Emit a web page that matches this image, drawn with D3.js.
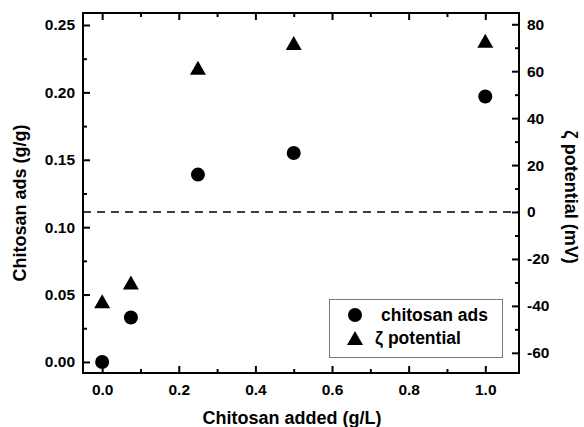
<!DOCTYPE html>
<html>
<head>
<meta charset="utf-8">
<script src="https://cdn.jsdelivr.net/npm/d3@7"></script>
<style>
  html, body { margin: 0; padding: 0; background: #fff; }
  svg { display: block; }
  text { font-family: "Liberation Sans", Arial, Helvetica, sans-serif; font-weight: bold; fill: #000; }
</style>
</head>
<body>
<svg id="chart" width="584" height="427"></svg>
<script>
// Chitosan added to the suspension (g/L)
const chitosanAdded = [0, 0.075, 0.25, 0.5, 1.0];
// Adsorbed chitosan (g/g)
const chitosanAds = [0.000, 0.033, 0.139, 0.155, 0.197];
// Zeta potential (mV)
const zetaPotential = [-38, -30, 61.5, 72, 73];

const xTicks = [0, 0.2, 0.4, 0.6, 0.8, 1.0];
const xMinorTicks = [0.1, 0.3, 0.5, 0.7, 0.9];
const yLeftTicks = [0, 0.05, 0.10, 0.15, 0.20, 0.25];
const yLeftMinorTicks = [0.025, 0.075, 0.125, 0.175, 0.225];
const yRightTicks = [-60, -40, -20, 0, 20, 40, 60, 80];
const yRightMinorTicks = [-50, -30, -10, 10, 30, 50, 70];

const legendLabels = ["chitosan ads", "\u03B6 potential"];
const xTitle = "Chitosan added (g/L)";
const yLeftTitle = "Chitosan ads (g/g)";
const yRightTitle = "\u03B6 potential (mV)";

const svg = d3.select("#chart");
const frame = { left: 83, right: 519, top: 13, bottom: 373 };

const x = d3.scaleLinear().domain([-0.05, 1.088]).range([frame.left, frame.right]);
const yL = d3.scaleLinear().domain([-0.0082, 0.2589]).range([frame.bottom, frame.top]);
const yR = d3.scaleLinear().domain([-68.6, 84.8]).range([frame.bottom, frame.top]);

const major = 7, minor = 4;
// plain hyphen for negative numbers
const intFmt = d => String(Math.round(d));

function styleAxis(g) {
  g.select(".domain").remove();
  g.selectAll(".tick line").attr("stroke", "#000").attr("stroke-width", 2);
  g.selectAll(".tick text").style("font-size", "15.5px");
}

// bottom axis
svg.append("g").attr("transform", `translate(0,${frame.bottom})`)
  .call(d3.axisBottom(x).tickValues(xTicks).tickFormat(d3.format(".1f"))
    .tickSizeInner(-major).tickSizeOuter(0).tickPadding(11))
  .call(styleAxis);
svg.append("g").attr("transform", `translate(0,${frame.bottom})`)
  .call(d3.axisBottom(x).tickValues(xMinorTicks).tickFormat("")
    .tickSizeInner(-minor).tickSizeOuter(0))
  .call(styleAxis);
// top axis (mirror, no labels)
svg.append("g").attr("transform", `translate(0,${frame.top})`)
  .call(d3.axisTop(x).tickValues(xTicks).tickFormat("")
    .tickSizeInner(-major).tickSizeOuter(0))
  .call(styleAxis);
svg.append("g").attr("transform", `translate(0,${frame.top})`)
  .call(d3.axisTop(x).tickValues(xMinorTicks).tickFormat("")
    .tickSizeInner(-minor).tickSizeOuter(0))
  .call(styleAxis);
// left axis
svg.append("g").attr("transform", `translate(${frame.left},0)`)
  .call(d3.axisLeft(yL).tickValues(yLeftTicks).tickFormat(d3.format(".2f"))
    .tickSizeInner(-major).tickSizeOuter(0).tickPadding(8))
  .call(styleAxis);
svg.append("g").attr("transform", `translate(${frame.left},0)`)
  .call(d3.axisLeft(yL).tickValues(yLeftMinorTicks).tickFormat("")
    .tickSizeInner(-minor).tickSizeOuter(0))
  .call(styleAxis);
// right axis
svg.append("g").attr("transform", `translate(${frame.right},0)`)
  .call(d3.axisRight(yR).tickValues(yRightTicks).tickFormat(intFmt)
    .tickSizeInner(-major).tickSizeOuter(0).tickPadding(8))
  .call(styleAxis);
svg.append("g").attr("transform", `translate(${frame.right},0)`)
  .call(d3.axisRight(yR).tickValues(yRightMinorTicks).tickFormat("")
    .tickSizeInner(-minor).tickSizeOuter(0))
  .call(styleAxis);

// zero line of the zeta potential
svg.append("line")
  .attr("x1", frame.left).attr("x2", frame.right)
  .attr("y1", yR(0)).attr("y2", yR(0))
  .attr("stroke", "#000").attr("stroke-width", 1.5)
  .attr("stroke-dasharray", "8,6");

// plot frame
svg.append("rect")
  .attr("x", frame.left).attr("y", frame.top)
  .attr("width", frame.right - frame.left).attr("height", frame.bottom - frame.top)
  .attr("fill", "none").attr("stroke", "#000").attr("stroke-width", 2);

const tri = (cx, cy) => `M${cx},${cy - 7}L${cx + 8},${cy + 7}L${cx - 8},${cy + 7}Z`;

// adsorbed chitosan (circles)
svg.append("g").selectAll("circle")
  .data(chitosanAdded.map((d, i) => [d, chitosanAds[i]]))
  .join("circle")
  .attr("cx", d => x(d[0])).attr("cy", d => yL(d[1])).attr("r", 7)
  .attr("fill", "#000");

// zeta potential (triangles)
svg.append("g").selectAll("path")
  .data(chitosanAdded.map((d, i) => [d, zetaPotential[i]]))
  .join("path")
  .attr("d", d => tri(x(d[0]), yR(d[1])))
  .attr("fill", "#000");

// legend
const lg = svg.append("g");
lg.append("rect").attr("x", 329.5).attr("y", 299.5).attr("width", 173).attr("height", 58)
  .attr("fill", "#fff").attr("stroke", "#777").attr("stroke-width", 1);
lg.append("circle").attr("cx", 355).attr("cy", 315).attr("r", 7).attr("fill", "#000");
lg.append("path").attr("d", tri(355, 338)).attr("fill", "#000");
lg.append("text").attr("x", 381).attr("y", 321).style("font-size", "17.5px").text(legendLabels[0]);
lg.append("text").attr("x", 375).attr("y", 344).style("font-size", "17.5px").text(legendLabels[1]);

// axis titles
svg.append("text").attr("x", 292).attr("y", 424)
  .attr("text-anchor", "middle").style("font-size", "18px").text(xTitle);
svg.append("text")
  .attr("transform", "translate(26,203) rotate(-90)")
  .attr("text-anchor", "middle").style("font-size", "18px").text(yLeftTitle);
svg.append("text")
  .attr("transform", "translate(565,197) rotate(90)")
  .attr("text-anchor", "middle").style("font-size", "18px").text(yRightTitle);
</script>
</body>
</html>
